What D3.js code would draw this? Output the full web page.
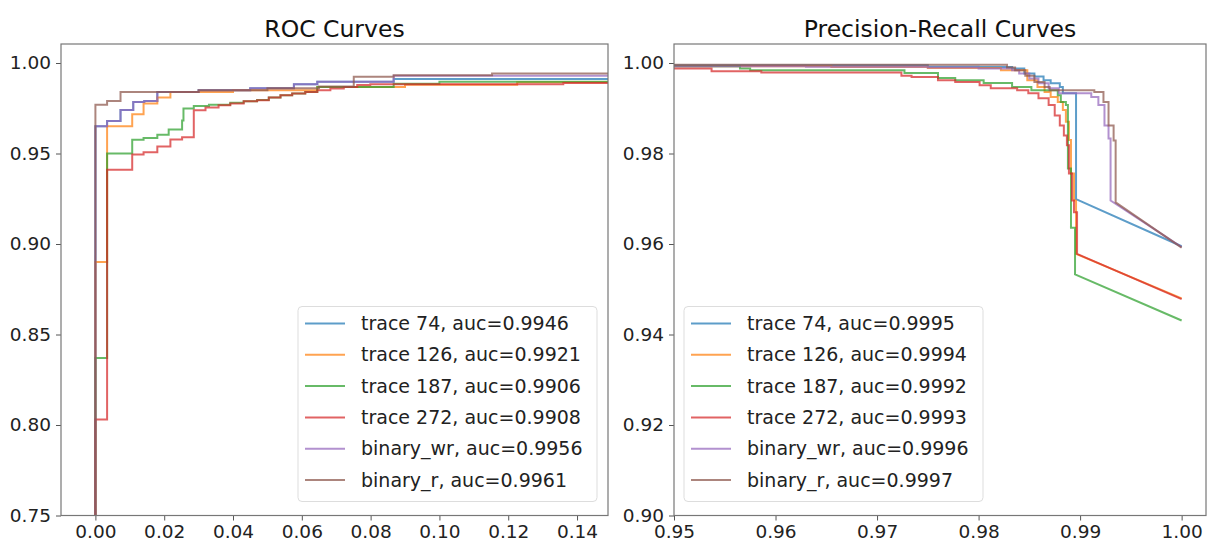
<!DOCTYPE html>
<html>
<head>
<meta charset="utf-8">
<script src="https://cdn.jsdelivr.net/npm/d3@7"></script>
<style>
  html, body { margin: 0; padding: 0; background: #fff; }
  svg { display: block; font-family: "DejaVu Sans", sans-serif; }
</style>
</head>
<body>
<svg id="chart" width="1209" height="541"></svg>
<script>
// ---------------- DATA ----------------
const seriesNames = ["trace 74", "trace 126", "trace 187", "trace 272", "binary_wr", "binary_r"];
const rocAuc = ["0.9946", "0.9921", "0.9906", "0.9908", "0.9956", "0.9961"];
const prAuc  = ["0.9995", "0.9994", "0.9992", "0.9993", "0.9996", "0.9997"];
const colors = ["#1f77b4", "#ff7f0e", "#2ca02c", "#d62728", "#9467bd", "#8c564b"];

const rocXTicks = [0.00, 0.02, 0.04, 0.06, 0.08, 0.10, 0.12, 0.14];
const rocYTicks = [0.75, 0.80, 0.85, 0.90, 0.95, 1.00];
const prXTicks  = [0.95, 0.96, 0.97, 0.98, 0.99, 1.00];
const prYTicks  = [0.90, 0.92, 0.94, 0.96, 0.98, 1.00];

// ROC step points: [fpr, tpr] (tpr reached at that fpr)
const roc74 = [[0,0],[0,0.965],[0.0034,0.968],[0.0073,0.974],[0.011,0.9785],[0.0142,0.979],[0.018,0.984],[0.03,0.985],[0.045,0.986],[0.0577,0.9883],[0.0645,0.9896],[0.0867,0.9912],[1,1]];
const roc126 = [[0,0],[0,0.89],[0.0034,0.965],[0.0107,0.9717],[0.014,0.9776],[0.018,0.981],[0.0218,0.984],[0.04,0.985],[0.0645,0.9868],[0.09,0.988],[0.1226,0.9894],[1,1]];
const roc187 = [[0,0],[0,0.837],[0.0034,0.950],[0.0107,0.9576],[0.014,0.9585],[0.018,0.9604],[0.0213,0.9632],[0.0252,0.9683],[0.0256,0.9748],[0.0286,0.9763],[0.033,0.977],[0.0392,0.978],[0.0431,0.9789],[0.047,0.9796],[0.0504,0.981],[0.0538,0.9822],[0.0572,0.9831],[0.061,0.984],[0.0645,0.9868],[0.0867,0.9885],[0.1,0.9896],[1,1]];
const roc272 = [[0,0],[0,0.803],[0.0034,0.941],[0.0107,0.9495],[0.014,0.9507],[0.018,0.9539],[0.0218,0.9578],[0.0252,0.959],[0.0286,0.9739],[0.032,0.9754],[0.0358,0.9767],[0.0392,0.9776],[0.0431,0.9789],[0.047,0.9794],[0.0504,0.9809],[0.0538,0.9822],[0.0572,0.9831],[0.061,0.984],[0.0645,0.985],[0.0683,0.9859],[0.0722,0.9868],[0.0761,0.9878],[0.0799,0.9882],[0.136,0.989],[1,1]];
const rocWr = [[0,0],[0,0.965],[0.0034,0.968],[0.0073,0.974],[0.011,0.9785],[0.0142,0.979],[0.018,0.984],[0.03,0.985],[0.045,0.986],[0.0577,0.9883],[0.0645,0.9896],[0.0867,0.9930],[1,1]];
const rocR = [[0,0],[0,0.977],[0.0034,0.979],[0.0073,0.984],[0.03,0.985],[0.05,0.986],[0.065,0.987],[0.0751,0.9924],[0.0867,0.9933],[0.1153,0.9942],[1,1]];

// PR step points: [recall, precision] (precision drops to value at that recall), then final point joined linearly
const pr74 = [[0.94,0.9995],[0.975,0.9992],[0.98,0.9991],[0.9833,0.9988],[0.9845,0.9977],[0.9855,0.9970],[0.9864,0.9962],[0.9871,0.9955],[0.9880,0.9947],[0.9883,0.9933],[0.9896,0.9699]];
const pr126 = [[0.94,0.9993],[0.9655,0.9991],[0.975,0.9989],[0.9822,0.9984],[0.9848,0.9962],[0.9858,0.9947],[0.9865,0.9936],[0.9871,0.9925],[0.9878,0.9914],[0.9883,0.9896],[0.9886,0.9870],[0.9889,0.9830],[0.9891,0.9756],[0.9894,0.9696],[0.9896,0.9578]];
const pr187 = [[0.94,0.9993],[0.9565,0.9988],[0.9575,0.9984],[0.9727,0.9978],[0.976,0.9967],[0.9777,0.9962],[0.9805,0.9956],[0.9833,0.9947],[0.9852,0.9940],[0.9878,0.9929],[0.9881,0.9914],[0.9886,0.9907],[0.9888,0.9767],[0.9891,0.9636],[0.9895,0.9533]];
const pr272 = [[0.94,0.9988],[0.9537,0.9982],[0.9586,0.9979],[0.9724,0.9972],[0.9734,0.9969],[0.976,0.9962],[0.9777,0.9958],[0.9801,0.9951],[0.9812,0.9944],[0.9838,0.9940],[0.9849,0.9933],[0.9859,0.9922],[0.9869,0.9907],[0.9875,0.9884],[0.9880,0.9862],[0.9884,0.9840],[0.9887,0.9818],[0.9889,0.9756],[0.9892,0.9696],[0.9894,0.9670],[0.9897,0.9578]];
const prWr = [[0.94,0.9993],[0.963,0.9992],[0.975,0.9990],[0.98,0.9988],[0.9833,0.9984],[0.9840,0.9977],[0.9850,0.9966],[0.9859,0.9955],[0.9869,0.9944],[0.9879,0.9933],[0.9911,0.9925],[0.9918,0.9907],[0.9924,0.9862],[0.9928,0.9833],[0.9930,0.9696]];
const prR = [[0.94,0.9996],[0.9828,0.9990],[0.9836,0.9984],[0.9846,0.9972],[0.9855,0.9958],[0.9865,0.9947],[0.9870,0.9940],[0.9914,0.9936],[0.9923,0.9914],[0.9928,0.9862],[0.9933,0.9829],[0.9935,0.9692]];
const prEnd = [[1.0,0.9595],[1.0,0.9480],[1.0,0.9431],[1.0,0.9478],[1.0,0.9593],[1.0,0.9592]];

const rocData = [roc74, roc126, roc187, roc272, rocWr, rocR];
const prData = [pr74, pr126, pr187, pr272, prWr, prR];

// ---------------- DRAW ----------------
const svg = d3.select("#chart");

function stepVertices(steps, end) {
  const v = [steps[0]];
  for (let i = 1; i < steps.length; i++) {
    v.push([steps[i][0], steps[i - 1][1]]);
    v.push(steps[i]);
  }
  if (end) v.push(end);
  return v;
}

function panel(cfg) {
  const x = d3.scaleLinear().domain(cfg.xDomain).range([cfg.left, cfg.right]);
  const y = d3.scaleLinear().domain(cfg.yDomain).range([cfg.bottom, cfg.top]);
  const g = svg.append("g");
  const clipId = "clip-" + cfg.id;
  svg.append("clipPath").attr("id", clipId).append("rect")
    .attr("x", cfg.left).attr("y", cfg.top)
    .attr("width", cfg.right - cfg.left).attr("height", cfg.bottom - cfg.top);

  // lines
  const line = d3.line().x(d => x(d[0])).y(d => y(d[1]));
  const lg = g.append("g").attr("clip-path", `url(#${clipId})`);
  cfg.data.forEach((s, i) => {
    lg.append("path")
      .attr("d", line(stepVertices(s, cfg.ends ? cfg.ends[i] : null)))
      .attr("fill", "none")
      .attr("stroke", colors[i])
      .attr("stroke-opacity", 0.72)
      .attr("stroke-width", 2)
      .attr("stroke-linejoin", "miter");
  });

  // axes
  const xAxis = d3.axisBottom(x).tickValues(cfg.xTicks).tickFormat(d3.format(".2f")).tickSize(5).tickPadding(4);
  const yAxis = d3.axisLeft(y).tickValues(cfg.yTicks).tickFormat(d3.format(".2f")).tickSize(5).tickPadding(5);
  const gx = g.append("g").attr("transform", `translate(0,${cfg.bottom})`).call(xAxis);
  const gy = g.append("g").attr("transform", `translate(${cfg.left},0)`).call(yAxis);
  [gx, gy].forEach(a => {
    a.select(".domain").remove();
    a.selectAll(".tick line").attr("stroke", "#555").attr("stroke-width", 1);
    a.selectAll(".tick text").attr("fill", "#222").style("font-size", "18.5px").style("font-family", "DejaVu Sans");
  });

  // frame
  g.append("rect")
    .attr("x", cfg.left).attr("y", cfg.top)
    .attr("width", cfg.right - cfg.left).attr("height", cfg.bottom - cfg.top)
    .attr("fill", "none").attr("stroke", "#777").attr("stroke-width", 1.2);

  // title
  g.append("text")
    .attr("x", (cfg.left + cfg.right) / 2).attr("y", 37)
    .attr("text-anchor", "middle")
    .attr("fill", "#111")
    .style("font-size", "23.5px")
    .text(cfg.title);

  // legend
  const lw = 299, lh = 195;
  const lx = cfg.legendSide === "right" ? cfg.right - 11 - lw : cfg.left + 10;
  const ly = cfg.bottom - 14 - lh;
  const leg = g.append("g").attr("transform", `translate(${lx},${ly})`);
  leg.append("rect").attr("width", lw).attr("height", lh).attr("rx", 4)
    .attr("fill", "#fff").attr("fill-opacity", 0.85)
    .attr("stroke", "#ddd").attr("stroke-width", 1);
  seriesNames.forEach((n, i) => {
    const cy = 17 + i * 31.3;
    leg.append("line").attr("x1", 7).attr("x2", 47).attr("y1", cy).attr("y2", cy)
      .attr("stroke", colors[i]).attr("stroke-opacity", 0.72).attr("stroke-width", 2);
    leg.append("text").attr("x", 63).attr("y", cy).attr("dy", "0.35em")
      .attr("fill", "#222").style("font-size", "19px")
      .text(`${n}, auc=${cfg.auc[i]}`);
  });
}

panel({
  id: "roc", title: "ROC Curves",
  left: 61, right: 608, top: 44, bottom: 515.5,
  xDomain: [-0.01, 0.149], yDomain: [0.75, 1.0105],
  xTicks: rocXTicks, yTicks: rocYTicks,
  data: rocData, ends: null, auc: rocAuc, legendSide: "right"
});

panel({
  id: "pr", title: "Precision-Recall Curves",
  left: 674, right: 1206, top: 44, bottom: 515.5,
  xDomain: [0.95, 1.0024], yDomain: [0.90, 1.0042],
  xTicks: prXTicks, yTicks: prYTicks,
  data: prData, ends: prEnd, auc: prAuc, legendSide: "left"
});
</script>
</body>
</html>
